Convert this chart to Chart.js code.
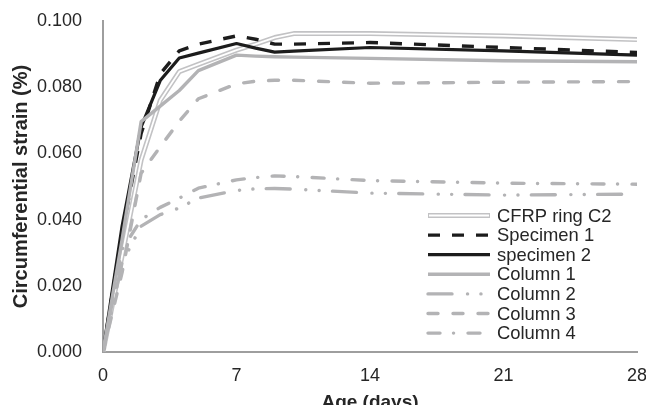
<!DOCTYPE html>
<html>
<head>
<meta charset="utf-8">
<script src="https://cdn.jsdelivr.net/npm/chart.js@4.4.1/dist/chart.umd.min.js"></script>
<style>
body { margin: 0; background: #fff; }
#wrap { width: 646px; height: 405px; }
</style>
</head>
<body>
<div id="wrap"><canvas id="strainChart" width="646" height="405"></canvas></div>
<script>
// values
const days = [0, 1, 2, 3, 4, 5, 7, 8, 9, 10, 14, 21, 28];
const cfrpRing = [0, 0.029, 0.058, 0.076, 0.0847, 0.0869, 0.0912, 0.093, 0.095, 0.0962, 0.0962, 0.0955, 0.0944];
const specimen1 = [0, 0.036, 0.066, 0.084, 0.091, 0.093, 0.0955, 0.0945, 0.093, 0.093, 0.0935, 0.092, 0.0905];
const specimen2 = [0, 0.038, 0.068, 0.082, 0.0888, 0.0903, 0.0932, 0.0918, 0.0906, 0.0909, 0.092, 0.091, 0.0897];
const column1 = [0, 0.034, 0.0696, 0.0743, 0.079, 0.085, 0.0897, 0.0894, 0.0892, 0.0891, 0.0887, 0.088, 0.0877];
const column2 = [0, 0.027, 0.038, 0.0415, 0.0435, 0.0465, 0.0488, 0.0493, 0.0494, 0.0492, 0.048, 0.0474, 0.0477];
const column3 = [0, 0.024, 0.054, 0.062, 0.0697, 0.0765, 0.081, 0.0818, 0.0821, 0.0821, 0.0812, 0.0815, 0.0817];
const column4 = [0, 0.031, 0.040, 0.0437, 0.0465, 0.0495, 0.052, 0.0527, 0.0532, 0.053, 0.0518, 0.051, 0.0507];
const xTicks = [0, 7, 14, 21, 28];
const yTicks = [0, 0.02, 0.04, 0.06, 0.08, 0.1];

const fontFam = '"Liberation Sans", Arial, sans-serif';
const textColor = '#262626';
const gray = '#b3b3b5';
const black = '#1c1c1c';

const series = [
    { label: 'CFRP ring C2', values: cfrpRing, color: '#c2c2c4', width: 5, dash: [], double: true },
    { label: 'Specimen 1', values: specimen1, color: black, width: 3.4, dash: [12, 12], cap: 'butt' },
    { label: 'specimen 2', values: specimen2, color: black, width: 3.2, dash: [] },
    { label: 'Column 1', values: column1, color: gray, width: 3.4, dash: [] },
    { label: 'Column 2', values: column2, color: gray, width: 3.4, dash: [24, 15.5, 0.1, 13.3, 0.1, 13.3], cap: 'round' },
    { label: 'Column 3', values: column3, color: gray, width: 3.4, dash: [10, 15], cap: 'round' },
    { label: 'Column 4', values: column4, color: gray, width: 3.4, dash: [12, 13.5, 0.1, 14.4], cap: 'round' }
];

let datasets = [];
series.forEach(function(s, i) {
    let pts = days.map((d, j) => ({ x: d, y: s.values[j] }));
    datasets.push({
        label: s.label,
        data: pts,
        borderColor: s.color,
        borderWidth: s.width,
        borderDash: s.dash,
        borderCapStyle: s.cap || 'butt',
        borderJoinStyle: 'round',
        pointRadius: 0,
        tension: 0,
        fill: false,
        order: 20 - i * 2
    });
    if (s.double) {
        // white core gives the double outline look
        datasets.push({
            label: s.label + ' core',
            data: pts,
            borderColor: '#ffffff',
            borderWidth: 1.8,
            borderJoinStyle: 'round',
            pointRadius: 0,
            tension: 0,
            fill: false,
            order: 19 - i * 2
        });
    }
});

const lineLegend = {
    id: 'lineLegend',
    afterDraw(chart) {
        const ctx = chart.ctx;
        const area = chart.chartArea;
        const x0 = area.right - 209;
        const x1 = area.right - 147;
        const tx = area.right - 140;
        let y = area.top + 194.5;
        ctx.save();
        series.forEach(function(s) {
            ctx.beginPath();
            ctx.setLineDash(s.dash);
            ctx.lineCap = s.cap || 'butt';
            ctx.strokeStyle = s.color;
            ctx.lineWidth = s.width;
            ctx.moveTo(x0, y);
            ctx.lineTo(x1, y);
            ctx.stroke();
            if (s.double) {
                ctx.beginPath();
                ctx.strokeStyle = '#ffffff';
                ctx.lineWidth = 1.8;
                ctx.moveTo(x0 + 1, y);
                ctx.lineTo(x1 - 1, y);
                ctx.stroke();
            }
            ctx.setLineDash([]);
            ctx.fillStyle = textColor;
            ctx.font = '18.4px ' + fontFam;
            ctx.textAlign = 'left';
            ctx.textBaseline = 'middle';
            ctx.fillText(s.label, tx, y + 1);
            y += 19.6;
        });
        ctx.restore();
    }
};

const ctx = document.getElementById('strainChart').getContext('2d');
const strainChart = new Chart(ctx, {
    type: 'line',
    data: { datasets: datasets },
    options: {
        responsive: false,
        animation: false,
        layout: { padding: { top: 21, right: 9, left: 0, bottom: 0 } },
        plugins: {
            legend: { display: false },
            tooltip: { enabled: false }
        },
        scales: {
            x: {
                type: 'linear',
                min: 0,
                max: 28,
                afterBuildTicks: function(scale) {
                    scale.ticks = xTicks.map(v => ({ value: v }));
                },
                afterFit: function(scale) {
                    scale.height = 53;
                    scale.paddingLeft = 0;
                    scale.paddingRight = 0;
                },
                grid: { display: false, drawTicks: false },
                border: { color: '#9e9e9e', width: 2 },
                ticks: {
                    padding: 13,
                    maxRotation: 0,
                    color: textColor,
                    font: { family: fontFam, size: 18 }
                },
                title: {
                    display: true,
                    text: 'Age (days)',
                    color: textColor,
                    padding: { top: 0, bottom: -9 },
                    font: { family: fontFam, size: 19, weight: 'bold' }
                }
            },
            y: {
                min: 0,
                max: 0.1,
                afterBuildTicks: function(scale) {
                    scale.ticks = yTicks.map(v => ({ value: v }));
                },
                afterFit: function(scale) {
                    scale.width = 103;
                    scale.paddingTop = 0;
                    scale.paddingBottom = 0;
                },
                grid: { display: false, drawTicks: false },
                border: { color: '#9e9e9e', width: 2 },
                ticks: {
                    padding: 21,
                    color: textColor,
                    font: { family: fontFam, size: 18 },
                    callback: v => v.toFixed(3)
                },
                title: {
                    display: true,
                    text: 'Circumferential strain (%)',
                    color: textColor,
                    padding: { top: 9, bottom: 0 },
                    font: { family: fontFam, size: 20, weight: 'bold' }
                }
            }
        }
    },
    plugins: [lineLegend]
});
</script>
</body>
</html>
